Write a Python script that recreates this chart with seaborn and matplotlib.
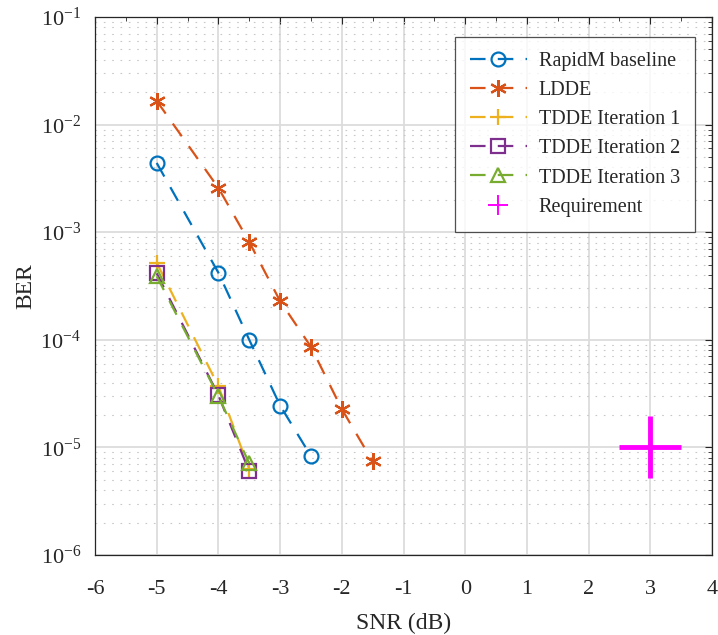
import numpy as np
import pandas as pd
import seaborn as sns
import matplotlib.pyplot as plt
from matplotlib.ticker import LogLocator, MultipleLocator

snr_base = [-5, -4, -3.5, -3, -2.5]
ber_base = [4.4e-3, 4.2e-4, 1.0e-4, 2.45e-5, 8.3e-6]

snr_ldde = [-5, -4, -3.5, -3, -2.5, -2, -1.5]
ber_ldde = [1.66e-2, 2.58e-3, 8.1e-4, 2.29e-4, 8.6e-5, 2.27e-5, 7.4e-6]

snr_tdde = [-5, -4, -3.5]
ber_it1 = [5.2e-4, 3.7e-5, 6.3e-6]
ber_it2 = [4.15e-4, 3.05e-5, 6.0e-6]
ber_it3 = [3.9e-4, 3.0e-5, 7.1e-6]

req_snr = [3]
req_ber = [1e-5]

series = [
    ("RapidM baseline", snr_base, ber_base, "#0072BD", "o", 10),
    ("LDDE", snr_ldde, ber_ldde, "#D95319", (6, 2, 0), 12),
    ("TDDE Iteration 1", snr_tdde, ber_it1, "#EDB120", "+", 12),
    ("TDDE Iteration 2", snr_tdde, ber_it2, "#7E2F8E", "s", 10),
    ("TDDE Iteration 3", snr_tdde, ber_it3, "#77AC30", "^", 10),
]

sns.set_style("white")
plt.rcParams['font.family'] = ['Liberation Serif', 'DejaVu Serif']
plt.rcParams['mathtext.fontset'] = 'stix'
plt.rcParams['axes.unicode_minus'] = False

fig = plt.figure(figsize=(7.18, 6.35), dpi=100)
ax = fig.add_axes([95 / 718, 1 - 555 / 635, (712 - 95) / 718, (555 - 17) / 635])

for name, xs, ys, col, mk, ms in series:
    df = pd.DataFrame({"SNR": xs, "BER": ys})
    sns.lineplot(data=df, x="SNR", y="BER", ax=ax, color=col, marker=mk,
                 markersize=ms, markerfacecolor="none", markeredgecolor=col,
                 markeredgewidth=1.6, linewidth=1.6, dashes=(7, 5.5),
                 label=name)

df_req = pd.DataFrame({"SNR": req_snr, "BER": req_ber})
sns.lineplot(data=df_req, x="SNR", y="BER", ax=ax, color="#FF00FF", marker="+",
             markersize=45, markeredgewidth=3.5, linestyle="none",
             markeredgecolor="#FF00FF", label="Requirement")

ax.set_yscale("log")
ax.set_xlim(-6, 4)
ax.set_ylim(1e-6, 1e-1)
ax.xaxis.set_major_locator(MultipleLocator(1))
ax.xaxis.set_minor_locator(MultipleLocator(0.5))
ax.yaxis.set_major_locator(LogLocator(base=10, numticks=10))
ax.yaxis.set_minor_locator(LogLocator(base=10, subs=np.arange(2, 10), numticks=20))
ax.set_xticks(range(-6, 5))
ax.set_xticklabels([str(v) for v in range(-6, 5)])

ax.grid(True, which="major", color="#dcdcdc", linewidth=1.3, linestyle="-")
ax.grid(True, which="minor", axis="y", color="#c8c8c8", linewidth=0.8, linestyle=(0, (1.5, 6)))
ax.set_axisbelow(True)

ax.tick_params(which="both", direction="in", top=True, right=True, labelsize=16,
               color="#262626")
ax.tick_params(axis="x", which="major", length=5, pad=18)
ax.tick_params(axis="y", which="major", length=5, pad=10)
ax.tick_params(which="minor", length=3)
for sp in ax.spines.values():
    sp.set_color("#262626")
    sp.set_linewidth(0.9)

ax.set_xlabel("SNR (dB)", fontsize=17, labelpad=10)
ax.set_ylabel("BER", fontsize=17, labelpad=3)

leg = ax.legend(loc="upper right", bbox_to_anchor=(0.9725, 0.9635), fontsize=14.5,
                frameon=True, fancybox=False, edgecolor="#262626", borderaxespad=0,
                handlelength=2.8, labelspacing=0.5, borderpad=0.75, handletextpad=0.6)
leg.get_frame().set_linewidth(0.9)
for h in leg.legend_handles:
    if h.get_linestyle() == "None":
        h.set_markersize(14)
        h.set_markeredgewidth(1.4)

fig.savefig("out.png", dpi=100)
